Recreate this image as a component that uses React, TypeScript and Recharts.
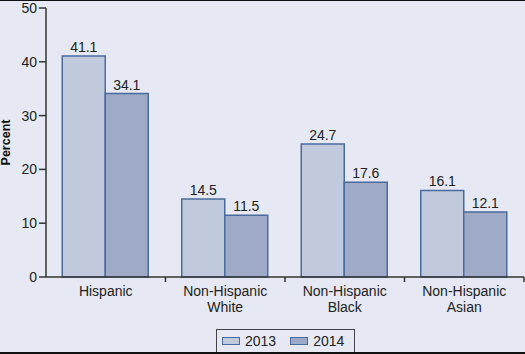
import { BarChart, Bar, XAxis, YAxis, LabelList } from 'recharts';

const groups = ['Hispanic', 'Non-Hispanic\nWhite', 'Non-Hispanic\nBlack', 'Non-Hispanic\nAsian'];
const y2013 = [41.1, 14.5, 24.7, 16.1];
const y2014 = [34.1, 11.5, 17.6, 12.1];
const yTicks = [0, 10, 20, 30, 40, 50];

const data = groups.map((g, i) => ({ group: g, y2013: y2013[i], y2014: y2014[i] }));

const FONT = 'Liberation Sans, Arial, sans-serif';
const AXIS = '#333';
const C2013 = '#c1cadd';
const C2014 = '#9eaac6';
const EDGE = '#4a6b9e';

function GroupTick(props: any) {
  const { x, y, payload, width } = props;
  const band = width / groups.length;
  const lines = String(payload.value).split('\n');
  return (
    <g>
      <line x1={x + band / 2} x2={x + band / 2} y1={y - 8} y2={y - 3} stroke={AXIS} strokeWidth={1.5} />
      <text x={x} y={y + 11} textAnchor="middle" fontSize={14} fill="#222" fontFamily={FONT}>
        {lines.map((l, i) => (
          <tspan key={i} x={x} dy={i === 0 ? 0 : 16}>{l}</tspan>
        ))}
      </text>
    </g>
  );
}

function YTitle(props: any) {
  const { viewBox } = props;
  const cy = viewBox.y + viewBox.height / 2;
  return (
    <text x={10} y={cy} transform={`rotate(-90, 10, ${cy})`} textAnchor="middle" fontSize={12.5}
      fontWeight="bold" fill="#111" fontFamily={FONT}>Percent</text>
  );
}

function LegendBox() {
  const item = (color: string, label: string) => (
    <span style={{ display: 'inline-flex', alignItems: 'center', marginRight: 14 }}>
      <span style={{ display: 'inline-block', width: 16, height: 6, background: color, border: `1px solid ${EDGE}`, marginRight: 5 }} />
      <span>{label}</span>
    </span>
  );
  return (
    <div style={{
      position: 'absolute', left: 216, top: 328, border: '1px solid #444', height: 24, width: 139,
      boxSizing: 'border-box', display: 'flex', alignItems: 'center', paddingLeft: 5,
      fontFamily: FONT, fontSize: 14, color: '#222',
    }}>
      {item(C2013, '2013')}
      {item(C2014, '2014')}
    </div>
  );
}

export default function App() {
  return (
    <div style={{
      position: 'absolute', left: 0, top: 0, width: 525, height: 354, background: '#e6e9f3',
      boxSizing: 'border-box', borderTop: '1px solid #111', borderBottom: '2px solid #111', overflow: 'hidden',
    }}>
      <BarChart width={525} height={351} data={data} margin={{ top: 7, right: 1, left: 0, bottom: 45 }}
        barCategoryGap="13.6%" barGap={0} style={{ position: 'absolute', top: 0, left: 0, overflow: 'visible' }}>
        <YAxis domain={[0, 50]} ticks={yTicks} width={46} interval={0}
          tick={{ fontSize: 14, fill: '#222', fontFamily: FONT }}
          stroke={AXIS} strokeWidth={1.5} tickSize={7}
          label={<YTitle />} />
        <XAxis dataKey="group" interval={0} height={30} stroke={AXIS} strokeWidth={1.5}
          tickLine={false} tick={<GroupTick />} />
        <Bar dataKey="y2013" fill={C2013} stroke={EDGE} strokeWidth={1.5} isAnimationActive={false}>
          <LabelList dataKey="y2013" position="top" offset={4} style={{ fontSize: 14, fill: '#222', fontFamily: FONT }} />
        </Bar>
        <Bar dataKey="y2014" fill={C2014} stroke={EDGE} strokeWidth={1.5} isAnimationActive={false}>
          <LabelList dataKey="y2014" position="top" offset={4} style={{ fontSize: 14, fill: '#222', fontFamily: FONT }} />
        </Bar>
      </BarChart>
      <LegendBox />
    </div>
  );
}
